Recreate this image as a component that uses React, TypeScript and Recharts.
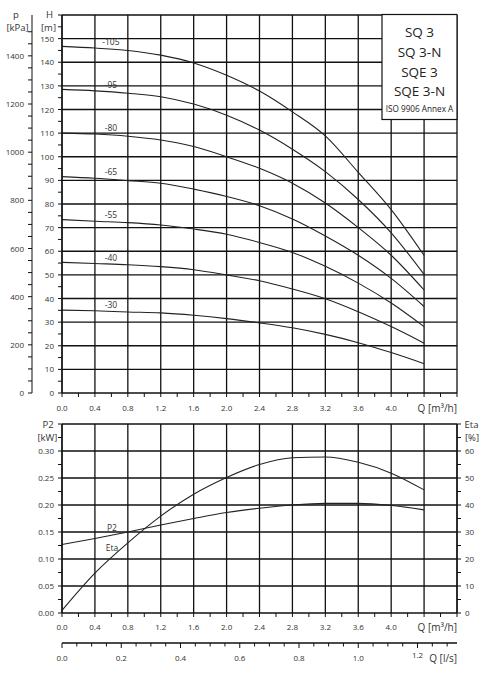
import React from "react";
import { LabelList, Line, LineChart, ReferenceLine, XAxis, YAxis } from "recharts";

const FONT = "'Open Sans', sans-serif";
const INK = "#111";
const TXT = "#333";

// flow points in m³/h
const flowQ = [0, 0.4, 0.8, 1.2, 1.6, 2.0, 2.4, 2.8, 3.2, 3.6, 4.0, 4.4];

// head curves [m]
const head105 = [146.7, 146.0, 145.0, 143.0, 139.7, 134.5, 127.8, 119.0, 108.8, 93.4, 77.6, 58.2];
const head95 = [128.5, 127.9, 126.9, 125.4, 122.3, 117.6, 111.3, 103.2, 93.7, 81.9, 67.8, 50.2];
const head80 = [110.0, 109.6, 108.7, 107.1, 104.3, 100.0, 95.1, 88.8, 80.4, 70.0, 58.3, 43.6];
const head65 = [91.6, 90.9, 89.9, 88.8, 86.3, 83.2, 79.3, 73.7, 66.5, 58.3, 48.5, 36.6];
const head55 = [73.4, 72.7, 72.1, 71.1, 69.4, 67.2, 63.7, 59.5, 53.6, 46.5, 38.1, 28.1];
const head40 = [55.3, 54.8, 54.3, 53.5, 52.2, 50.0, 47.5, 44.0, 39.9, 34.4, 28.1, 21.1];
const head30 = [35.1, 34.8, 34.3, 33.9, 32.9, 31.5, 29.7, 27.6, 24.8, 21.3, 17.1, 12.4];
const curveNames = ["-105", "-95", "-80", "-65", "-55", "-40", "-30"];
const headSeries = [head105, head95, head80, head65, head55, head40, head30];

// power [kW] and efficiency [%]
const powerP2 = [0.127, 0.138, 0.15, 0.163, 0.175, 0.186, 0.194, 0.2, 0.203, 0.203, 0.199, 0.191];
const effEta = [1, 14.8, 26.0, 35.9, 44.0, 50.2, 55.0, 57.5, 57.8, 55.8, 51.8, 45.6];

// unit conversions for the secondary axes
const KPA_PER_M = 9.81;
const M3H_PER_LS = 3.6;

const headRows = flowQ.map((q, i) => {
  const row: Record<string, number> = { q, kpa: head105[i] * KPA_PER_M };
  headSeries.forEach((s, k) => (row["c" + k] = s[i]));
  return row;
});
const powerRows = flowQ.map((q, i) => ({ q, qls: q / M3H_PER_LS, p2: powerP2[i], eta: effEta[i] }));

const range = (a: number, b: number, step: number) => {
  const out: number[] = [];
  for (let v = a; v <= b + 1e-9; v += step) out.push(Math.round(v * 1000) / 1000);
  return out;
};
const isStep = (v: number, step: number) => Math.abs(v / step - Math.round(v / step)) < 1e-6;

const Q_MAX = 4.8;
const H_MAX = 160;
const KPA_MAX = H_MAX * KPA_PER_M;
const LS_MAX = Q_MAX / M3H_PER_LS;

const qTicks = range(0, Q_MAX, 0.2);
const qGrid = range(0, Q_MAX, 0.4);
const hTicks = range(0, H_MAX, 5);
const hGrid = range(10, H_MAX, 10);
const kpaTicks = range(0, 1500, 50);
const kwTicks = range(0, 0.35, 0.025);
const kwGrid = range(0.05, 0.35, 0.05);
const etaTicks = range(0, 70, 5);
const lsTicks = range(0, 1.3, 0.05);

const txt = { fontFamily: FONT, fill: TXT };

const QTick = ({ x, y, payload, labelDy }: any) => {
  const v = payload.value;
  const major = isStep(v, 0.4);
  return (
    <g>
      <line x1={x} x2={x} y1={y} y2={y + 4} stroke={INK} strokeWidth={1} />
      {major && v <= 4.0 + 1e-6 && (
        <text x={x} y={y + labelDy} textAnchor="middle" fontSize={8} {...txt}>
          {v.toFixed(1)}
        </text>
      )}
      {Math.abs(v - Q_MAX) < 1e-6 && (
        <text x={x} y={y + labelDy + 1} textAnchor="end" fontSize={10} {...txt}>
          Q [m³/h]
        </text>
      )}
    </g>
  );
};

const LeftTick = ({ x, y, payload, every, maxLabel, digits }: any) => {
  const v = payload.value;
  const major = isStep(v, every);
  return (
    <g>
      <line x1={x - 4} x2={x} y1={y} y2={y} stroke={INK} strokeWidth={1} />
      {major && v <= maxLabel + 1e-6 && (
        <text x={x - 8} y={y + 3} textAnchor="end" fontSize={8} {...txt}>
          {v.toFixed(digits)}
        </text>
      )}
    </g>
  );
};

const RightTick = ({ x, y, payload }: any) => {
  const v = payload.value;
  const major = isStep(v, 10);
  return (
    <g>
      <line x1={x} x2={x + 4} y1={y} y2={y} stroke={INK} strokeWidth={1} />
      {major && v <= 60 && (
        <text x={x + 8} y={y + 3} textAnchor="start" fontSize={8} {...txt}>
          {v}
        </text>
      )}
    </g>
  );
};

const LsTick = ({ x, y, payload }: any) => {
  const v = payload.value;
  const major = isStep(v, 0.2);
  return (
    <g>
      <line x1={x} x2={x} y1={y} y2={y + (major ? 5 : 3.5)} stroke={INK} strokeWidth={1} />
      {major && (
        <text x={x} y={y + (v > 1.1 ? 15 : 18)} textAnchor="middle" fontSize={8} {...txt}>
          {v.toFixed(1)}
        </text>
      )}
      {Math.abs(v - 1.3) < 1e-6 && (
        <text x={x + 10} y={y + 19} textAnchor="end" fontSize={10} {...txt}>
          Q [l/s]
        </text>
      )}
    </g>
  );
};

const curveLabel = (name: string, dx: number, dy: number) => (p: any) =>
  p.index === 1 ? (
    <text x={p.x + dx} y={p.y + dy} textAnchor="middle" fontSize={8.5} {...txt}>
      {name}
    </text>
  ) : null;

const axisLine = { stroke: INK, strokeWidth: 1.3 };

export default function App() {
  return (
    <div style={{ position: "absolute", left: 0, top: 0, width: 489, height: 677, background: "#fff" }}>
      <div style={{ position: "absolute", left: 0, top: 0 }}>
        <LineChart width={489} height={420} data={headRows} margin={{ top: 15, right: 32, bottom: 0, left: 0 }}>
          <XAxis
            dataKey="q"
            type="number"
            domain={[0, Q_MAX]}
            ticks={qTicks}
            interval={0}
            height={27}
            tickSize={0}
            tickMargin={0}
            tickLine={false}
            axisLine={axisLine}
            tick={(p: any) => <QTick {...p} labelDy={18} />}
          />
          <YAxis
            yAxisId="a_h"
            type="number"
            domain={[0, H_MAX]}
            ticks={hTicks}
            interval={0}
            width={30}
            tickSize={0}
            tickMargin={0}
            tickLine={false}
            axisLine={axisLine}
            tick={(p: any) => <LeftTick {...p} every={10} maxLabel={150} digits={0} />}
          />
          <YAxis
            yAxisId="b_p"
            type="number"
            domain={[0, KPA_MAX]}
            allowDataOverflow
            ticks={kpaTicks}
            interval={0}
            width={32}
            tickSize={0}
            tickMargin={0}
            tickLine={false}
            axisLine={{ stroke: INK, strokeWidth: 1 }}
            tick={(p: any) => <LeftTick {...p} every={200} maxLabel={1400} digits={0} />}
          />
          {qGrid.map((q) => (
            <ReferenceLine key={"vx" + q} x={q} yAxisId="a_h" stroke={INK} strokeWidth={1.3} />
          ))}
          {hGrid.map((h) => (
            <ReferenceLine key={"hy" + h} y={h} yAxisId="a_h" stroke={INK} strokeWidth={1.3} />
          ))}
          <Line
            yAxisId="b_p"
            dataKey="kpa"
            stroke="none"
            strokeOpacity={0}
            dot={false}
            activeDot={false}
            isAnimationActive={false}
          />
          {curveNames.map((name, k) => (
            <Line
              key={name}
              yAxisId="a_h"
              dataKey={"c" + k}
              type="monotone"
              stroke="#222"
              strokeWidth={1.1}
              dot={false}
              activeDot={false}
              isAnimationActive={false}
            >
              <LabelList dataKey={"c" + k} content={curveLabel(name, 16, -3)} />
            </Line>
          ))}
        </LineChart>
      </div>

      <div style={{ position: "absolute", left: 0, top: 420 }}>
        <LineChart width={489} height={253} data={powerRows} margin={{ top: 4, right: 0, bottom: 0, left: 0 }}>
          <XAxis
            xAxisId="a_q"
            dataKey="q"
            type="number"
            domain={[0, Q_MAX]}
            ticks={qTicks}
            interval={0}
            height={30}
            tickSize={0}
            tickMargin={0}
            tickLine={false}
            axisLine={axisLine}
            tick={(p: any) => <QTick {...p} labelDy={17} />}
          />
          <XAxis
            xAxisId="b_ls"
            dataKey="qls"
            type="number"
            domain={[0, LS_MAX]}
            allowDataOverflow
            ticks={lsTicks}
            interval={0}
            height={30}
            tickSize={0}
            tickMargin={0}
            tickLine={false}
            axisLine={axisLine}
            tick={(p: any) => <LsTick {...p} />}
          />
          <YAxis
            yAxisId="a_kw"
            type="number"
            domain={[0, 0.35]}
            ticks={kwTicks}
            interval={0}
            width={62}
            tickSize={0}
            tickMargin={0}
            tickLine={false}
            axisLine={axisLine}
            tick={(p: any) => <LeftTick {...p} every={0.05} maxLabel={0.3} digits={2} />}
          />
          <YAxis
            yAxisId="b_eta"
            orientation="right"
            type="number"
            domain={[0, 70]}
            ticks={etaTicks}
            interval={0}
            width={32}
            tickSize={0}
            tickMargin={0}
            tickLine={false}
            axisLine={axisLine}
            tick={(p: any) => <RightTick {...p} />}
          />
          {qGrid.map((q) => (
            <ReferenceLine key={"bx" + q} x={q} xAxisId="a_q" yAxisId="a_kw" stroke={INK} strokeWidth={1.3} />
          ))}
          {kwGrid.map((v) => (
            <ReferenceLine key={"by" + v} y={v} xAxisId="a_q" yAxisId="a_kw" stroke={INK} strokeWidth={1.3} />
          ))}
          <Line
            xAxisId="b_ls"
            yAxisId="a_kw"
            dataKey="p2"
            stroke="none"
            strokeOpacity={0}
            dot={false}
            activeDot={false}
            isAnimationActive={false}
          />
          <Line
            xAxisId="a_q"
            yAxisId="a_kw"
            dataKey="p2"
            type="monotone"
            stroke="#222"
            strokeWidth={1.1}
            dot={false}
            activeDot={false}
            isAnimationActive={false}
          >
            <LabelList dataKey="p2" content={curveLabel("P2", 17, -7)} />
          </Line>
          <Line
            xAxisId="a_q"
            yAxisId="b_eta"
            dataKey="eta"
            type="monotone"
            stroke="#222"
            strokeWidth={1.1}
            dot={false}
            activeDot={false}
            isAnimationActive={false}
          >
            <LabelList dataKey="eta" content={curveLabel("Eta", 17, -22)} />
          </Line>
        </LineChart>
      </div>

      <svg width={489} height={677} style={{ position: "absolute", left: 0, top: 0, pointerEvents: "none" }}>
        <g fontFamily={FONT} fill={TXT} textAnchor="middle" fontSize={9.5}>
          <text x={16} y={17.5}>p</text>
          <text x={17.5} y={30.5}>[kPa]</text>
          <text x={49.5} y={17.5}>H</text>
          <text x={48.5} y={30.5}>[m]</text>
          <text x={48} y={427.5}>P2</text>
          <text x={47.5} y={440.5}>[kW]</text>
          <text x={471.5} y={427.5}>Eta</text>
          <text x={472} y={440.5}>[%]</text>
        </g>
        <rect x={382} y={14.5} width={75} height={105} fill="#fff" stroke={INK} strokeWidth={1.2} />
        <g fontFamily={FONT} fill="#222" textAnchor="middle">
          <text x={419.5} y={36.5} fontSize={13.5}>SQ 3</text>
          <text x={419.5} y={56.5} fontSize={13.5}>SQ 3-N</text>
          <text x={419.5} y={76.5} fontSize={13.5}>SQE 3</text>
          <text x={419.5} y={95.5} fontSize={13.5}>SQE 3-N</text>
          <text x={419.5} y={111.5} fontSize={8.2}>ISO 9906 Annex A</text>
        </g>
      </svg>
    </div>
  );
}
